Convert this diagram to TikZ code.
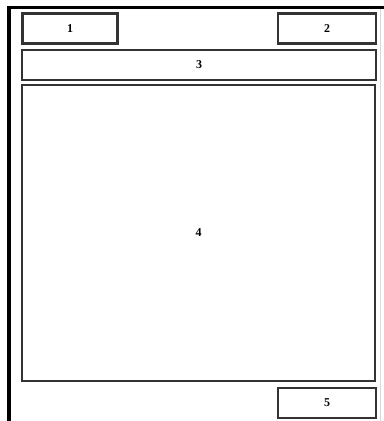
\documentclass[tikz,border=0pt]{standalone}
\usepackage{fontspec}
\setmainfont{Liberation Serif}
\begin{document}
\begin{tikzpicture}[x=0.75pt,y=-0.75pt,
  panel/.style={draw=black!80,line width=1.6pt,fill=white,inner sep=0pt,
    font=\fontsize{9}{10}\selectfont\bfseries},
  framel/.style={line width=2.4pt,black}]
\useasboundingbox (0,0) rectangle (384,421);
\fill[white] (0,0) rectangle (384,421);
% outer frame
\coordinate (tl) at (9,7.5);
\coordinate (tr) at (384,7.5);
\coordinate (bl) at (9,421);
\coordinate (rt) at (380.5,7.5);
\coordinate (rb) at (380.5,421);
\draw[line width=0.5pt,black!15] (rt) -- (rb);
\draw[framel] (bl) -- (tl) -- (tr);
% panels
\node[panel,minimum width=71.25pt,minimum height=22.5pt] (p1) at (70,28.5) {1};
\node[panel,minimum width=73.5pt,minimum height=22.5pt] (p2) at (327,28.5) {2};
\node[panel,minimum width=265.5pt,minimum height=22.5pt] (p3) at (199,65) {3};
\node[panel,minimum width=264.75pt,minimum height=222pt] (p4) at (198.5,233) {4};
\node[panel,minimum width=73.5pt,minimum height=22.5pt] (p5) at (327,403) {5};
\end{tikzpicture}
\end{document}
